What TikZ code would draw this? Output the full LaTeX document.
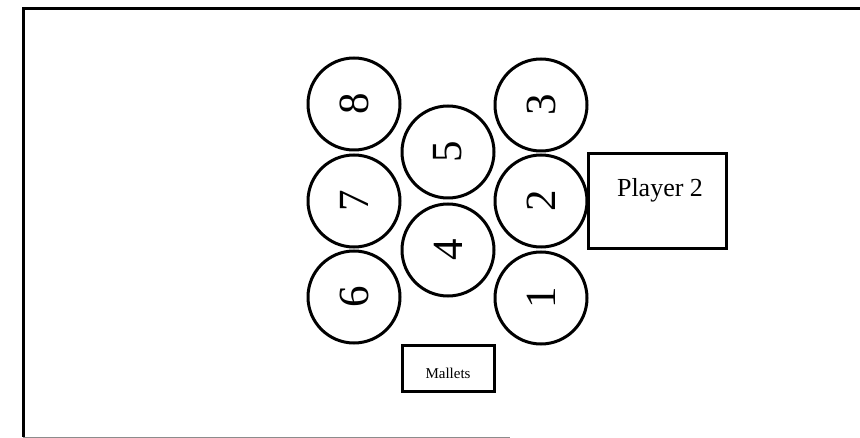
\documentclass[tikz,border=0pt]{standalone}
\usepackage{fontspec}
\setmainfont{Liberation Serif}
\begin{document}
\begin{tikzpicture}[x=1pt,y=-1pt,
  ball/.style={circle,draw,line width=3pt,minimum size=92pt,inner sep=0pt,
    rotate=90,font=\fontsize{43}{43}\selectfont},
  panel/.style={draw,line width=3pt,inner sep=0pt},
  label/.style={inner sep=0pt}]
  \useasboundingbox (0,0) rectangle (860,438);
  % frame: heavy top and left edges, faint bottom edge
  \coordinate (tl) at (23,9);
  \coordinate (tr) at (860,9);
  \coordinate (bl) at (23,437);
  \coordinate (br) at (510,437);
  \draw[line width=3pt] (tr) -- (tl) -- (bl);
  \draw[line width=0.8pt,black!45] (bl) -- (br);
  % drums
  \node[ball] (c8) at (354,104) {8};
  \node[ball] (c7) at (354,201) {7};
  \node[ball] (c6) at (354,297) {6};
  \node[ball] (c5) at (448,152) {5};
  \node[ball] (c4) at (448,250) {4};
  \node[ball] (c3) at (541,105) {3};
  \node[ball] (c2) at (541,201) {2};
  \node[ball] (c1) at (541,298) {1};
  % player position
  \node[panel,minimum width=138pt,minimum height=95pt] (p2) at (657,201.5) {};
  \node[label,font=\fontsize{26}{26}\selectfont] (p2t) at (660,190) {Player 2};
  % mallets tray
  \node[panel,minimum width=92pt,minimum height=46pt] (mb) at (448,369) {};
  \node[label,font=\fontsize{15}{15}\selectfont] (mt) at (448,373) {Mallets};
\end{tikzpicture}
\end{document}
